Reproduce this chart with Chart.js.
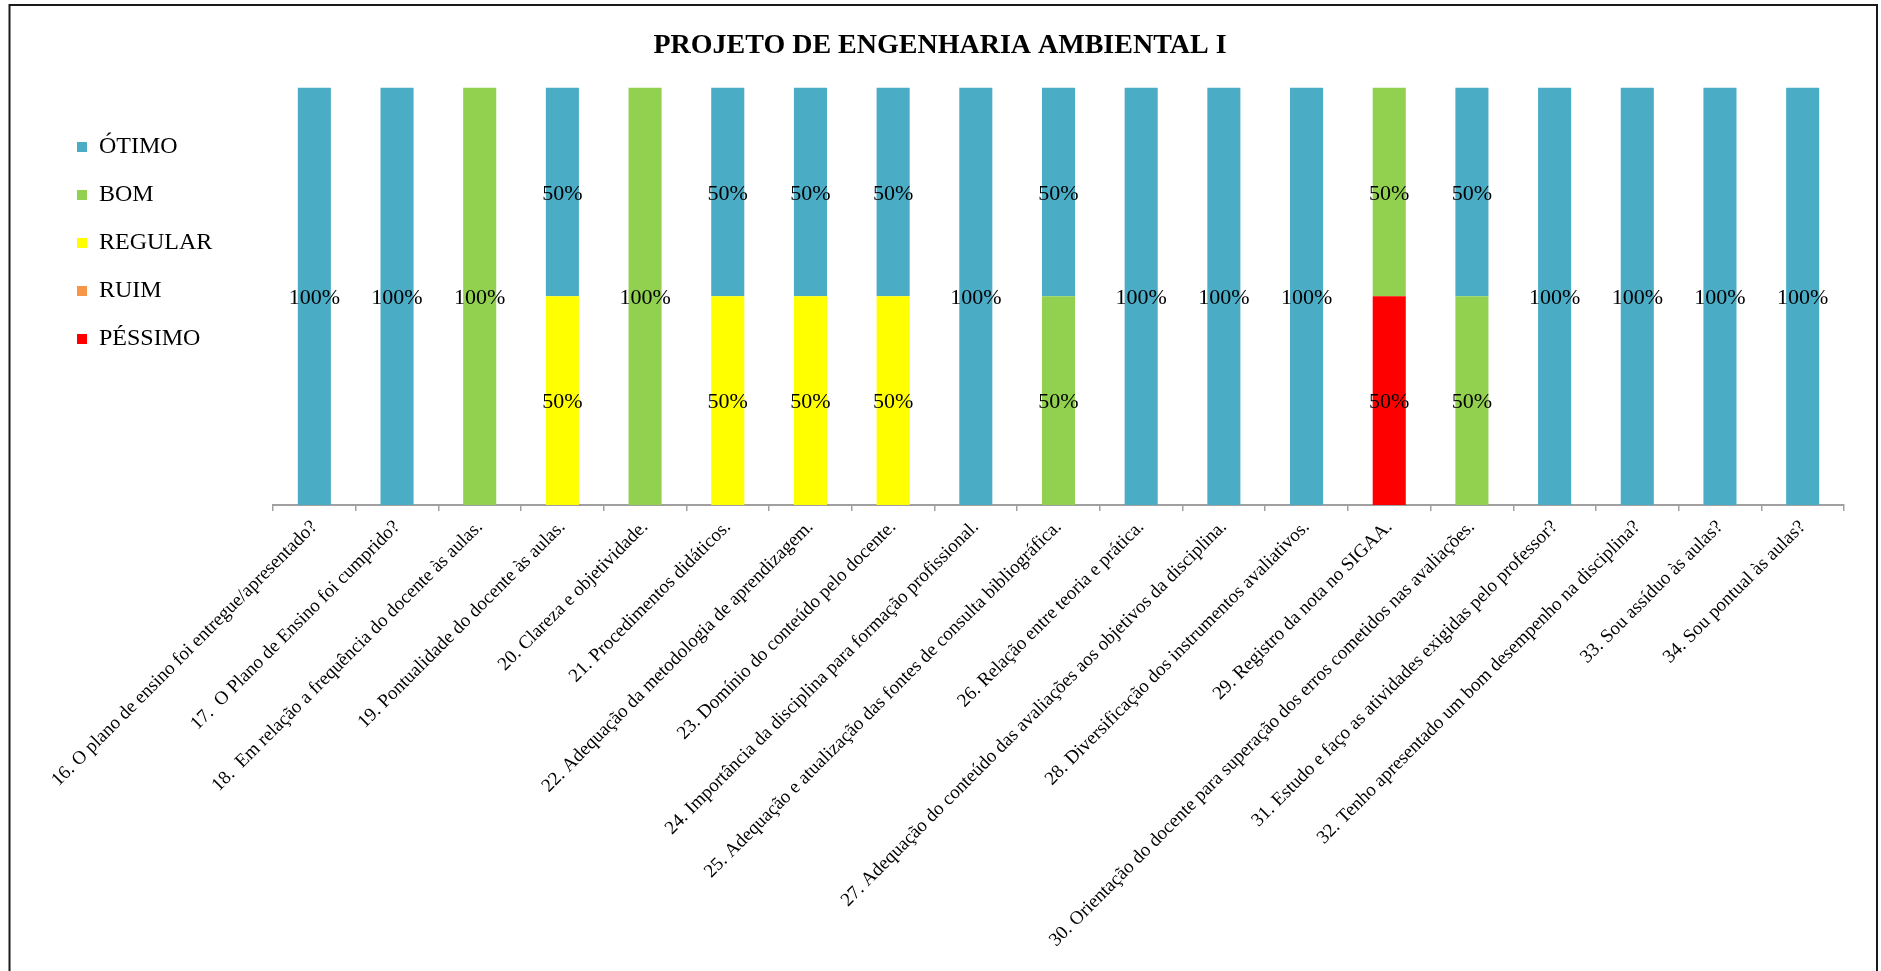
<!DOCTYPE html>
<html>
<head>
<meta charset="utf-8">
<script src="https://cdn.jsdelivr.net/npm/chart.js@4.4.1/dist/chart.umd.min.js"></script>
<style>
  html, body { margin: 0; padding: 0; background: #ffffff; }
  #wrap { width: 1881px; height: 971px; position: relative; }
</style>
</head>
<body>
<div id="wrap"><canvas id="c"></canvas></div>
<script>
const chartTitle = 'PROJETO DE ENGENHARIA AMBIENTAL I';

const categories = [
  '16. O plano de ensino foi entregue/apresentado?',
  '17.  O Plano de Ensino foi cumprido?',
  '18.  Em relação a frequência do docente às aulas.',
  '19. Pontualidade do docente às aulas.',
  '20. Clareza e objetividade.',
  '21. Procedimentos didáticos.',
  '22. Adequação da metodologia de aprendizagem.',
  '23. Domínio do conteúdo pelo docente.',
  '24. Importância da disciplina para formação profissional.',
  '25. Adequação e atualização das fontes de consulta bibliográfica.',
  '26. Relação entre teoria e prática.',
  '27. Adequação do conteúdo das avaliações aos objetivos da disciplina.',
  '28. Diversificação dos instrumentos avaliativos.',
  '29. Registro da nota no SIGAA.',
  '30. Orientação do docente para superação dos erros cometidos nas avaliações.',
  '31. Estudo e faço as atividades exigidas pelo professor?',
  '32. Tenho apresentado um bom desempenho na disciplina?',
  '33. Sou assíduo às aulas?',
  '34. Sou pontual às aulas?'
];

// values in percent (bottom of stack first: PÉSSIMO, RUIM, REGULAR, BOM, ÓTIMO)
const pessimo = [0,0,0,0,0,0,0,0,0,0,0,0,0,50,0,0,0,0,0];
const ruim    = [0,0,0,0,0,0,0,0,0,0,0,0,0,0,0,0,0,0,0];
const regular = [0,0,0,50,0,50,50,50,0,0,0,0,0,0,0,0,0,0,0];
const bom     = [0,0,100,0,100,0,0,0,0,50,0,0,0,50,50,0,0,0,0];
const otimo   = [100,100,0,50,0,50,50,50,100,50,100,100,100,0,50,100,100,100,100];

const seriesNames  = ['PÉSSIMO', 'RUIM', 'REGULAR', 'BOM', 'ÓTIMO'];
const seriesValues = [pessimo, ruim, regular, bom, otimo];
const seriesColors = ['#FF0000', '#F79646', '#FFFF00', '#92D050', '#4BACC6'];

const SERIF = "'Liberation Serif', 'Times New Roman', serif";

const frameAndBackground = {
  id: 'frameAndBackground',
  beforeDraw(chart) {
    const ctx = chart.ctx;
    ctx.save();
    ctx.fillStyle = '#ffffff';
    ctx.fillRect(0, 0, chart.width, chart.height);
    ctx.strokeStyle = '#1a1a1a';
    ctx.lineWidth = 2;
    ctx.strokeRect(9.5, 5, 1867.5, chart.height + 10);
    ctx.restore();
  }
};

const valueLabels = {
  id: 'valueLabels',
  afterDatasetsDraw(chart) {
    const ctx = chart.ctx;
    ctx.save();
    ctx.font = '22px ' + SERIF;
    ctx.fillStyle = '#000000';
    ctx.textAlign = 'center';
    ctx.textBaseline = 'middle';
    chart.data.datasets.forEach((ds, di) => {
      const meta = chart.getDatasetMeta(di);
      if (meta.hidden) return;
      meta.data.forEach((el, i) => {
        const v = ds.data[i];
        if (!v) return;
        const p = el.getProps(['x', 'y', 'base'], true);
        ctx.fillText(v + '%', p.x, (p.y + p.base) / 2 + 2);
      });
    });
    ctx.restore();
  }
};

new Chart(document.getElementById('c'), {
  type: 'bar',
  data: {
    labels: categories,
    datasets: seriesNames.map((name, k) => ({
      label: name,
      data: seriesValues[k],
      backgroundColor: seriesColors[k],
      borderWidth: 0,
      barPercentage: 0.4,
      categoryPercentage: 1.0
    }))
  },
  options: {
    responsive: true,
    maintainAspectRatio: false,
    animation: false,
    layout: { padding: { left: 36, right: 37, top: 0, bottom: 0 } },
    plugins: {
      title: {
        display: true,
        text: chartTitle,
        color: '#000000',
        font: { family: SERIF, size: 28, weight: 'bold' },
        padding: { top: 29, bottom: 25 }
      },
      legend: {
        display: true,
        position: 'left',
        align: 'start',
        fullSize: false,
        reverse: true,
        maxWidth: 160,
        title: { display: true, text: '', font: { size: 12 }, padding: { top: 5, bottom: 4 } },
        labels: {
          boxWidth: 10,
          boxHeight: 10,
          padding: 24,
          color: '#000000',
          font: { family: SERIF, size: 24 }
        }
      },
      tooltip: { enabled: false }
    },
    scales: {
      x: {
        stacked: true,
        grid: {
          display: true,
          drawOnChartArea: false,
          drawTicks: true,
          tickLength: 6,
          color: '#a0a0a0',
          lineWidth: 1.5,
          offset: true
        },
        border: { display: true, color: '#a0a0a0', width: 2 },
        ticks: {
          autoSkip: false,
          minRotation: 45,
          maxRotation: 45,
          padding: 5,
          color: '#000000',
          font: { family: SERIF, size: 19 }
        },
        afterFit(scale) {
          scale.height = 466;
          scale.paddingLeft = 273;
          scale.paddingRight = 0;
        }
      },
      y: {
        stacked: true,
        display: true,
        min: 0,
        max: 100,
        ticks: { display: false },
        grid: { display: false, drawTicks: false },
        border: { display: false },
        afterFit(scale) {
          scale.width = 60;
        }
      }
    }
  },
  plugins: [frameAndBackground, valueLabels]
});
</script>
</body>
</html>
